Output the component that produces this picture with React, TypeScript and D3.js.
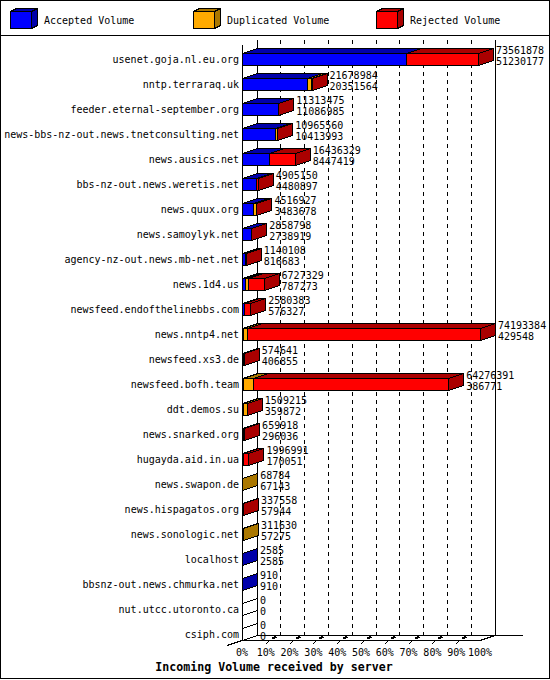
import React from "react";
import * as d3 from "d3";

const hosts = [
  "usenet.goja.nl.eu.org", "nntp.terraraq.uk", "feeder.eternal-september.org",
  "news-bbs-nz-out.news.tnetconsulting.net", "news.ausics.net", "bbs-nz-out.news.weretis.net",
  "news.quux.org", "news.samoylyk.net", "agency-nz-out.news.mb-net.net", "news.1d4.us",
  "newsfeed.endofthelinebbs.com", "news.nntp4.net", "newsfeed.xs3.de", "newsfeed.bofh.team",
  "ddt.demos.su", "news.snarked.org", "hugayda.aid.in.ua", "news.swapon.de",
  "news.hispagatos.org", "news.sonologic.net", "localhost", "bbsnz-out.news.chmurka.net",
  "nut.utcc.utoronto.ca", "csiph.com",
];
const offered = [
  73561878, 21678984, 11313475, 10965560, 16436329, 4905150, 4516927, 2858798, 1140108, 6727329,
  2580383, 74193384, 574641, 64276391, 1509215, 659918, 1996991, 68784, 337558, 311630, 2585, 910, 0, 0,
];
const accepted = [
  51230177, 20351564, 11086985, 10413993, 8447419, 4480897, 3483678, 2738919, 816683, 787273,
  576327, 429548, 406855, 386771, 359872, 296036, 170051, 67143, 57944, 57275, 2585, 910, 0, 0,
];
const duplicated = [
  0, 1250000, 0, 500000, 0, 0, 1000000, 0, 0, 1000000,
  0, 1100000, 0, 3000000, 1100000, 0, 0, 1641, 0, 254355, 0, 0, 0, 0,
];
const rejected = [
  22331701, 77420, 226490, 51567, 7988910, 424253, 33249, 119879, 323425, 4940056,
  2004056, 72663836, 167786, 60889620, 49343, 363882, 1826940, 0, 279614, 0, 0, 0, 0, 0,
];
const percentTicks = [0, 10, 20, 30, 40, 50, 60, 70, 80, 90, 100];
const legendNames = ["Accepted Volume", "Duplicated Volume", "Rejected Volume"];
const frontColors = ["#0000ff", "#ffaa00", "#ff0000"];
const darkColors = ["#0000aa", "#aa7700", "#aa0000"];
const chartTitle = "Incoming Volume received by server";

const W = 550, H = 680;
const DX = 15, DY = 5, HALF = 6;
const FRONT_L = 242, FRONT_R = 480, FLOOR = 640, TOP = 40;
const mono = "'DejaVu Sans Mono', 'Liberation Mono', monospace";

const x = d3.scaleLinear().domain([0, d3.max(offered) as number]).range([FRONT_L, FRONT_R]);
const pct = d3.scaleLinear().domain([0, 100]).range([FRONT_L, FRONT_R]);
const y = d3.scalePoint<string>().domain(hosts).range([59, 634]);
const px = (v: number) => Math.round(v) + 0.5;
const fl = (v: number) => Math.floor(v) + 0.5;
const pts = (p: number[][]) => p.map((q) => q.join(",")).join(" ");

function Bar({ i }: { i: number }) {
  const c = y(hosts[i]) as number;
  const top = px(c - HALF), bot = px(c + HALF);
  const vals = [accepted[i], duplicated[i], rejected[i]];
  let sum = 0;
  const segs = vals.map((v, k) => {
    const a = sum;
    sum += v;
    return { k, v, x0: px(x(a)), x1: px(x(sum)) };
  });
  const end = px(x(sum));
  const last = [...segs].reverse().find((s) => s.v > 0);
  const sideFill = last ? darkColors[last.k] : "#ffffff";
  return (
    <g stroke="#000" strokeWidth={1} shapeRendering="crispEdges">
      {segs.filter((s) => s.v > 0).map((s) => (
        <polygon key={"t" + s.k} fill={darkColors[s.k]}
          points={pts([[s.x0, top], [s.x0 + DX, top - DY], [s.x1 + DX, top - DY], [s.x1, top]])} />
      ))}
      <polygon fill={sideFill}
        points={pts([[end, top], [end + DX, top - DY], [end + DX, bot - DY], [end, bot]])} />
      {segs.filter((s) => s.v > 0).map((s) => (
        <rect key={"f" + s.k} x={s.x0} y={top} width={s.x1 - s.x0} height={bot - top} fill={frontColors[s.k]} />
      ))}
    </g>
  );
}

export default function App() {
  const ticksBack = percentTicks.slice(1, -1);
  return (
    <svg width={W} height={H} viewBox={`0 0 ${W} ${H}`}
      style={{ position: "absolute", left: 0, top: 0, display: "block", background: "#fff" }}>
      <rect x={0.5} y={0.5} width={W - 1} height={H - 2} fill="#fff" stroke="#000" shapeRendering="crispEdges" />
      <line x1={0} x2={W} y1={35.5} y2={35.5} stroke="#000" shapeRendering="crispEdges" />

      {legendNames.map((name, k) => {
        const lx = 10 + 183 * k;
        return (
          <g key={name}>
            <g stroke="#000" shapeRendering="crispEdges">
              <polygon fill={darkColors[k]} points={pts([[lx + 0.5, 11.5], [lx + 6.5, 8.5], [lx + 27.5, 8.5], [lx + 21.5, 11.5]])} />
              <polygon fill={darkColors[k]} points={pts([[lx + 21.5, 11.5], [lx + 27.5, 8.5], [lx + 27.5, 25.5], [lx + 21.5, 28.5]])} />
              <rect x={lx + 0.5} y={11.5} width={21} height={17} fill={frontColors[k]} />
            </g>
            <text x={lx + 34} y={23.5} fontFamily={mono} fontSize={10} fill="#000">{name}</text>
          </g>
        );
      })}

      {/* walls and floor */}
      <g stroke="#000" shapeRendering="crispEdges" fill="none">
        {ticksBack.map((t) => (
          <line key={t} x1={fl(pct(t) + DX)} x2={fl(pct(t) + DX)} y1={TOP} y2={FLOOR - DY} strokeDasharray="4 4" />
        ))}
        <line x1={px(FRONT_L + DX)} x2={px(FRONT_L + DX)} y1={TOP} y2={FLOOR - DY} />
        <line x1={px(FRONT_R + DX)} x2={px(FRONT_R + DX)} y1={TOP} y2={FLOOR - DY} />
        <line x1={px(FRONT_L)} x2={px(FRONT_L)} y1={TOP + DY} y2={FLOOR} />
        <line x1={FRONT_L + DX} x2={523} y1={FLOOR - DY + 0.5} y2={FLOOR - DY + 0.5} />
        <line x1={FRONT_L} x2={FRONT_R} y1={FLOOR + 0.5} y2={FLOOR + 0.5} />
        <line x1={227} y1={645.5} x2={FRONT_L + DX} y2={FLOOR - DY + 0.5} />
        <line x1={FRONT_R} y1={FLOOR + 0.5} x2={FRONT_R + DX} y2={FLOOR - DY + 0.5} />
        {ticksBack.map((t) => (
          <g key={t}>
            <line x1={px(pct(t)) - 1} y1={644.5} x2={px(pct(t)) + 3} y2={FLOOR + 0.5} />
            <line x1={px(pct(t)) + 6} y1={638.5} x2={px(pct(t)) + 10} y2={FLOOR - DY + 1.5} strokeWidth={2} />
          </g>
        ))}
      </g>

      {hosts.map((h) => (
        <text key={h} x={239} y={(y(h) as number) + 3.5} textAnchor="end" fontFamily={mono} fontSize={10} fill="#000">{h}</text>
      ))}

      {hosts.map((h, i) => <Bar key={h} i={i} />)}

      {hosts.map((h, i) => {
        const c = y(h) as number;
        const lx = x(offered[i]) + DX + 3;
        return (
          <g key={h} fontFamily={mono} fontSize={10} fill="#000">
            <text x={lx} y={c - 5.5}>{offered[i]}</text>
            <text x={lx} y={c + 5.5}>{accepted[i]}</text>
          </g>
        );
      })}

      {percentTicks.map((t) => (
        <text key={t} x={pct(t)} y={656} textAnchor="middle" fontFamily={mono} fontSize={10} fill="#000">{t}%</text>
      ))}
      <text x={274} y={671} textAnchor="middle" fontFamily={mono} fontSize={11.6} fontWeight="bold" fill="#000">{chartTitle}</text>
    </svg>
  );
}
